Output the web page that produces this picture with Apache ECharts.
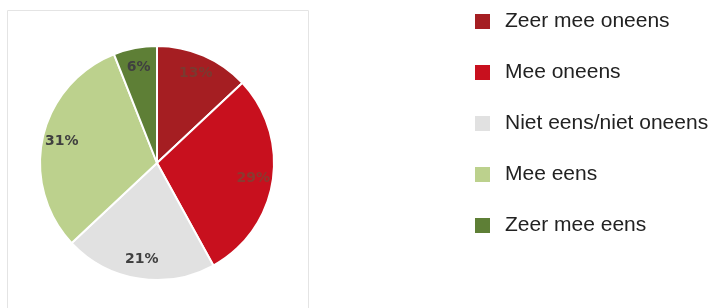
<!DOCTYPE html>
<html>
<head>
<meta charset="utf-8">
<script src="https://cdn.jsdelivr.net/npm/echarts@6/dist/echarts.min.js"></script>
<style>
  html, body { margin: 0; padding: 0; background: #fff; }
  #chart { width: 713px; height: 308px; }
</style>
</head>
<body>
<div id="chart"></div>
<script>
// antwoordcategorieën en aandelen (%)
const categories = ['Zeer mee oneens', 'Mee oneens', 'Niet eens/niet oneens', 'Mee eens', 'Zeer mee eens']
const values = [13, 29, 21, 31, 6]
const colors = ['#a51e22', '#c8101e', '#e1e1e1', '#bcd18d', '#5e7f36']
const labelColors = ['#7a3a30', '#8a3a30', '#404040', '#404040', '#404040']

let chart = echarts.init(document.getElementById('chart'))

let pieData = categories.map((name, i) => ({
    name: name,
    value: values[i],
    itemStyle: { color: colors[i] }
}))

// aparte ring alleen voor de labels, zodat ze op ~80% van de straal staan
let labelData = categories.map((name, i) => ({
    name: name,
    value: values[i],
    label: { color: labelColors[i] }
}))

let option = {
    animation: false,
    graphic: [{
        type: 'rect',
        shape: { x: 7.5, y: 10.5, width: 301, height: 310 },
        style: { fill: 'none', stroke: '#e4e4e4', lineWidth: 1 },
        silent: true
    }],
    legend: {
        orient: 'vertical',
        left: 468,
        top: 6,
        itemWidth: 17,
        itemHeight: 17,
        itemGap: 30,
        icon: 'rect',
        data: categories,
        textStyle: {
            fontFamily: 'Liberation Sans',
            fontSize: 21,
            color: '#222',
            padding: [0, 0, 0, 9]
        }
    },
    series: [{
        type: 'pie',
        center: [157, 163],
        radius: [0, 117],
        startAngle: 90,
        clockwise: true,
        label: { show: false },
        labelLine: { show: false },
        itemStyle: { borderColor: '#fff', borderWidth: 2 },
        emphasis: { disabled: true },
        data: pieData
    }, {
        type: 'pie',
        center: [157, 163],
        radius: [72, 117],
        startAngle: 90,
        clockwise: true,
        silent: true,
        itemStyle: { color: 'rgba(0,0,0,0)' },
        label: {
            show: true,
            position: 'inside',
            formatter: '{c}%',
            fontFamily: 'DejaVu Sans',
            fontWeight: 'bold',
            fontSize: 14
        },
        labelLine: { show: false },
        emphasis: { disabled: true },
        data: labelData
    }]
}

chart.setOption(option)
</script>
</body>
</html>
